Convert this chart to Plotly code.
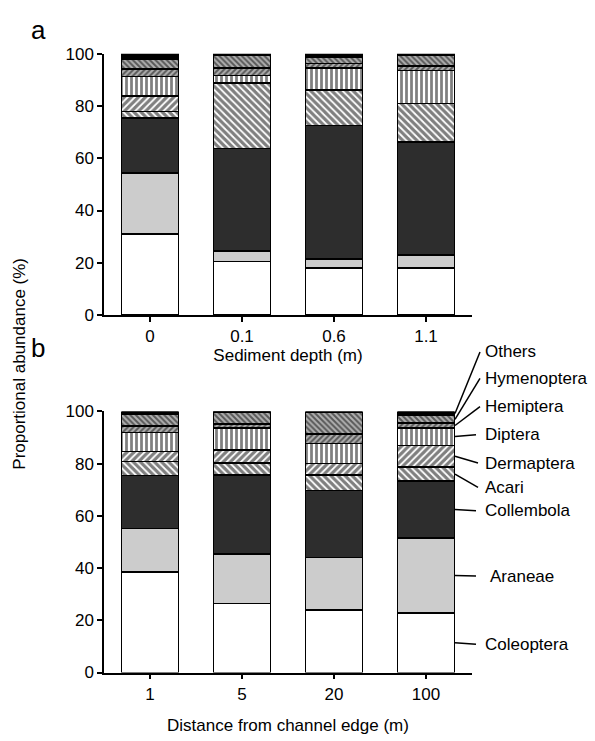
import plotly.graph_objects as go

W, H = 595, 741

taxa = ["Coleoptera", "Araneae", "Collembola", "Acari", "Dermaptera",
        "Diptera", "Hemiptera", "Hymenoptera", "Others"]

depth_labels = ["0", "0.1", "0.6", "1.1"]
distance_labels = ["1", "5", "20", "100"]

# Panel a: sediment depth (values in %, bottom to top)
depth_values = {
    "Coleoptera":  [31.0, 20.5, 18.0, 18.0],
    "Araneae":     [23.4, 4.0, 3.5, 5.0],
    "Collembola":  [21.1, 39.2, 51.1, 43.2],
    "Acari":       [2.5, 25.1, 13.6, 14.7],
    "Dermaptera":  [5.8, 0.0, 0.0, 0.0],
    "Diptera":     [7.5, 2.9, 8.3, 12.8],
    "Hemiptera":   [2.8, 2.8, 1.8, 1.7],
    "Hymenoptera": [4.0, 4.8, 2.2, 4.1],
    "Others":      [1.9, 0.7, 1.5, 0.5],
}

# Panel b: distance from channel edge
distance_values = {
    "Coleoptera":  [38.5, 26.5, 24.0, 22.8],
    "Araneae":     [16.6, 18.9, 20.1, 28.8],
    "Collembola":  [20.3, 30.2, 25.7, 21.7],
    "Acari":       [5.5, 4.6, 5.8, 5.4],
    "Dermaptera":  [3.8, 5.0, 4.4, 8.3],
    "Diptera":     [7.2, 8.5, 7.7, 6.7],
    "Hemiptera":   [2.6, 1.5, 3.7, 1.8],
    "Hymenoptera": [4.5, 4.5, 8.1, 2.9],
    "Others":      [1.0, 0.3, 0.5, 1.6],
}

y_ticks = [0, 20, 40, 60, 80, 100]

styles = {
    "Coleoptera":  dict(color="white"),
    "Araneae":     dict(color="#cccccc"),
    "Collembola":  dict(color="#2d2d2d"),
    "Acari":       dict(color="white", pattern=dict(shape="\\", fgcolor="black", bgcolor="white", size=5, solidity=0.65)),
    "Dermaptera":  dict(color="white", pattern=dict(shape="/", fgcolor="black", bgcolor="white", size=5, solidity=0.65)),
    "Diptera":     dict(color="white", pattern=dict(shape="|", fgcolor="black", bgcolor="white", size=5, solidity=0.55)),
    "Hemiptera":   dict(color="#aaaaaa", pattern=dict(shape="/", fgcolor="black", bgcolor="#b0b0b0", size=4, solidity=0.5)),
    "Hymenoptera": dict(color="#aaaaaa", pattern=dict(shape="\\", fgcolor="black", bgcolor="#b0b0b0", size=4, solidity=0.5)),
    "Others":      dict(color="black"),
}

FONT = "Liberation Sans, Arial, sans-serif"
fig = go.Figure()
BW = 0.615
for t in taxa:
    st = styles[t]
    mk = dict(color=st["color"], line=dict(color="black", width=1.5))
    if "pattern" in st:
        mk["pattern"] = st["pattern"]
    fig.add_trace(go.Bar(x=depth_labels, y=depth_values[t], name=t, marker=mk,
                         width=BW, xaxis="x", yaxis="y", showlegend=False))
    fig.add_trace(go.Bar(x=distance_labels, y=distance_values[t], name=t, marker=mk,
                         width=BW, xaxis="x2", yaxis="y2", showlegend=False))

def px2x(p): return p / W
def px2y(p): return 1 - p / H

xdom = [px2x(104), px2x(472)]
ya_dom = [px2y(314), px2y(46)]
yb_dom = [px2y(681), px2y(413)]

axis_common = dict(showline=True, linecolor="black", linewidth=1.5, ticks="outside",
                   ticklen=5, tickwidth=1.5, tickcolor="black", showgrid=False, zeroline=False,
                   tickfont=dict(size=17, color="black", family=FONT))

fig.update_layout(
    width=W, height=H, margin=dict(l=0, r=0, t=0, b=0),
    paper_bgcolor="white", plot_bgcolor="white", barmode="stack",
    font=dict(family=FONT, color="black", size=17),
    xaxis=dict(domain=xdom, anchor="y", type="category", range=[-0.5, 3.5],
               title=dict(text="Sediment depth (m)", font=dict(size=17), standoff=4), **axis_common),
    yaxis=dict(domain=ya_dom, anchor="x", range=[0, 100], tickvals=y_ticks, **axis_common),
    xaxis2=dict(domain=xdom, anchor="y2", type="category", range=[-0.5, 3.5],
                title=dict(text="Distance from channel edge (m)", font=dict(size=17), standoff=16), **axis_common),
    yaxis2=dict(domain=yb_dom, anchor="x2", range=[0, 100], tickvals=y_ticks, **axis_common),
)

ann = [
    dict(text="a", x=px2x(38), y=px2y(22), xref="paper", yref="paper", showarrow=False,
         font=dict(size=26), xanchor="center", yanchor="middle"),
    dict(text="b", x=px2x(38), y=px2y(348), xref="paper", yref="paper", showarrow=False,
         font=dict(size=26), xanchor="center", yanchor="middle"),
    dict(text="Proportional abundance (%)", x=px2x(20), y=px2y(364), xref="paper", yref="paper",
         showarrow=False, textangle=-90, font=dict(size=17), xanchor="center", yanchor="middle"),
]

# Legend labels with leader lines to the last bar of panel b
label_pos = {
    "Others": (480, 352), "Hymenoptera": (480, 379), "Hemiptera": (480, 408),
    "Diptera": (476, 437), "Dermaptera": (478, 466), "Acari": (478, 491),
    "Collembola": (476, 515), "Araneae": (476, 582), "Coleoptera": (476, 652),
}
text_x = {"Araneae": 488}
cum = 0
shapes = []
bar_right = px2x(455)
for t in taxa:
    v = distance_values[t][-1]
    mid = cum + v / 2
    cum += v
    ex, ey = label_pos[t]
    y0 = yb_dom[0] + mid / 100 * (yb_dom[1] - yb_dom[0])
    shapes.append(dict(type="line", xref="paper", yref="paper", x0=bar_right, y0=y0,
                       x1=px2x(ex), y1=px2y(ey),
                       line=dict(color="black", width=1.5)))
    ann.append(dict(text=t, x=px2x(text_x.get(t, 483)), y=px2y(ey), xref="paper", yref="paper",
                    showarrow=False, xanchor="left", yanchor="middle", font=dict(size=17)))

fig.update_layout(annotations=ann, shapes=shapes)
fig.write_html("out.html")
